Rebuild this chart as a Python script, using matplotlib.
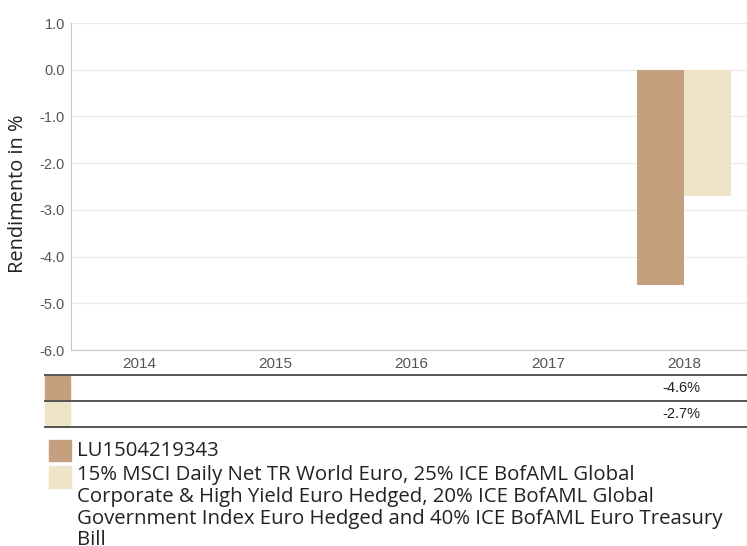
import matplotlib
matplotlib.use("Agg")
import matplotlib.pyplot as plt
from matplotlib.lines import Line2D
from matplotlib.patches import Rectangle
import matplotlib.transforms as mtrans

years = ["2014", "2015", "2016", "2017", "2018"]
fund_values = [None, None, None, None, -4.6]
bench_values = [None, None, None, None, -2.7]
fund_name = "LU1504219343"
bench_name = ("15% MSCI Daily Net TR World Euro, 25% ICE BofAML Global\n"
              "Corporate & High Yield Euro Hedged, 20% ICE BofAML Global\n"
              "Government Index Euro Hedged and 40% ICE BofAML Euro Treasury\n"
              "Bill")
yticks = [1.0, 0.0, -1.0, -2.0, -3.0, -4.0, -5.0, -6.0]

c_fund = "#C4A07F"
c_bench = "#EFE3C8"

W, H = 747, 546
fig = plt.figure(figsize=(W / 100, H / 100), dpi=100)

def fx(px):
    return px / W

def fy(py):
    return 1 - py / H

ax = fig.add_axes([fx(71), fy(350), fx(752) - fx(71), fy(23) - fy(350)])
bw = 0.345
for i, (fv, bv) in enumerate(zip(fund_values, bench_values)):
    if fv is not None:
        ax.bar(i - bw / 2, fv, width=bw, color=c_fund, zorder=3)
    if bv is not None:
        ax.bar(i + bw / 2, bv, width=bw, color=c_bench, zorder=3)

ax.set_xlim(-0.5, 4.5)
ax.set_ylim(-6.0, 1.0)
ax.set_yticks(yticks)
ax.set_yticklabels([f"{v:.1f}" for v in yticks], fontfamily="Liberation Sans",
                   fontsize=10.5, color="#555555")
ax.set_xticks(range(len(years)))
ax.set_xticklabels(years, fontfamily="Liberation Sans", fontsize=11, color="#555555")
ax.tick_params(axis="y", length=0, pad=4.5)
ax.tick_params(axis="x", length=0, pad=5)
ax.grid(axis="y", color="#ebebeb", linewidth=1, zorder=0)
for s in ["top", "right"]:
    ax.spines[s].set_visible(False)
ax.spines["left"].set_color("#c8c8c8")
ax.spines["bottom"].set_color("#c8c8c8")
ax.spines["bottom"].set_zorder(4)
ax.set_ylabel("Rendimento in %", fontfamily="Open Sans", fontsize=14.4, color="#222222",
              va="center")
ax.yaxis.set_label_coords((18 - 71) / 681, (350 - 194) / 327)

# data table below the chart
for py in [375, 401, 427]:
    fig.add_artist(Line2D([fx(45), 1.0], [fy(py), fy(py)], color="#555555",
                          linewidth=1.4, transform=fig.transFigure))
fig.add_artist(Rectangle((fx(45), fy(401)), fx(70) - fx(45), fy(376) - fy(401),
                         color=c_fund, transform=fig.transFigure, zorder=1))
fig.add_artist(Rectangle((fx(45), fy(427)), fx(70) - fx(45), fy(402) - fy(427),
                         color=c_bench, transform=fig.transFigure, zorder=1))
blend = mtrans.blended_transform_factory(ax.transData, fig.transFigure)
for i, (fv, bv) in enumerate(zip(fund_values, bench_values)):
    if fv is not None:
        fig.text(i - 0.02, fy(388), f"{fv:.1f}%", transform=blend, ha="center", va="center",
                 fontfamily="Liberation Sans", fontsize=10.5, color="#222222")
    if bv is not None:
        fig.text(i - 0.02, fy(414), f"{bv:.1f}%", transform=blend, ha="center", va="center",
                 fontfamily="Liberation Sans", fontsize=10.5, color="#222222")

# legend
fig.add_artist(Rectangle((fx(49), fy(461)), fx(71) - fx(49), fy(440) - fy(461),
                         color=c_fund, transform=fig.transFigure))
fig.add_artist(Rectangle((fx(49), fy(488)), fx(71) - fx(49), fy(466) - fy(488),
                         color=c_bench, transform=fig.transFigure))
fig.text(fx(77), fy(451), fund_name, ha="left", va="center", fontfamily="Open Sans",
         fontsize=14.7, color="#222222")
fig.text(fx(77), fy(465), bench_name, ha="left", va="top", fontfamily="Open Sans",
         fontsize=14.7, color="#222222", linespacing=1.12)

fig.savefig("out.png", dpi=100)
